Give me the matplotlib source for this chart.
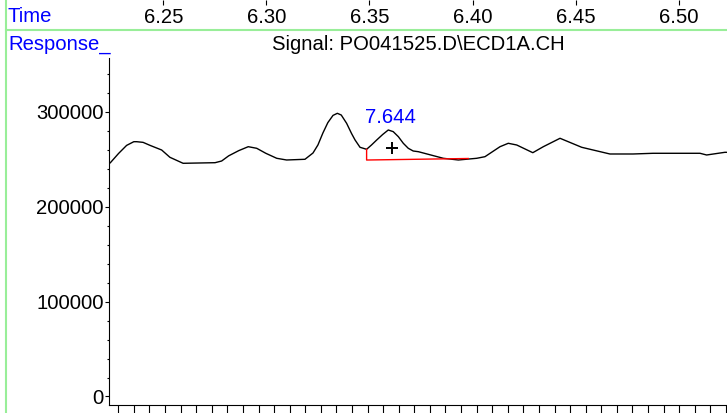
import numpy as np
import matplotlib
matplotlib.use("Agg")
import matplotlib.pyplot as plt
from matplotlib.lines import Line2D
from matplotlib.ticker import MultipleLocator, FixedLocator, NullFormatter

plt.rcParams['font.family'] = ['Liberation Sans', 'DejaVu Sans']

# signal trace (time in min, response in counts)
time = [6.2238, 6.2242, 6.2283, 6.2322, 6.2357, 6.2371, 6.2402, 6.2436, 6.2492,
        6.2532, 6.2596, 6.2751, 6.2783, 6.2817, 6.2866, 6.2912, 6.2953, 6.2997,
        6.3050, 6.3098, 6.3187, 6.3226, 6.3250, 6.3274, 6.3298, 6.3323, 6.3344,
        6.3363, 6.3389, 6.3413, 6.3430, 6.3454, 6.3486, 6.3510, 6.3535, 6.3564,
        6.3591, 6.3615, 6.3640, 6.3664, 6.3688, 6.3712, 6.3737, 6.3858, 6.3931,
        6.4020, 6.4060, 6.4133, 6.4173, 6.4214, 6.4292, 6.4343, 6.4424, 6.4529,
        6.4666, 6.4778, 6.4875, 6.5103, 6.5135, 6.5224, 6.5234]
response = [246500, 245960, 256000, 264500, 268400, 268400, 267700, 264500, 259660,
            251970, 245650, 246280, 248070, 253500, 259000, 263140, 261450, 256200,
            250920, 249130, 249870, 256500, 265000, 277570, 288500, 296100, 298300,
            296500, 287790, 277000, 270200, 262500, 260400, 265000, 270200, 276000,
            280730, 279000, 273670, 266700, 261450, 258600, 257870, 250920, 249130,
            250920, 252610, 263140, 266720, 264930, 256820, 263140, 271990, 262510,
            255450, 255450, 256190, 256190, 254400, 257240, 257200]

# integration baseline of the labelled peak
base_time = [6.3486, 6.3486, 6.3979]
base_resp = [260400, 249100, 250700]

peak_label = "7.644"
peak_label_pos = (6.3600, 294400)
peak_mark = (6.3609, 261780)

top_ticks = [6.25, 6.30, 6.35, 6.40, 6.45, 6.50]
top_labels = ["6.25", "6.30", "6.35", "6.40", "6.45", "6.50"]
bottom_ticks = 6.22818 + 0.007556 * np.arange(40)

xlim = (6.22381, 6.52338)
ylim = (-8430, 356250)

W, H = 727, 413
fig = plt.figure(figsize=(W / 100, H / 100), dpi=100)
fs = 14.6

L = 109.3 / W
ax = fig.add_axes([L, 8.5 / H, 1 - L, (404.5 - 58.3) / H])
ax.plot(time, response, color='black', lw=1.0)
ax.plot(base_time, base_resp, color='red', lw=1.0)
ax.plot(*peak_mark, marker='+', color='black', ms=8, mew=1.4)
ax.text(*peak_label_pos, peak_label, color='blue', fontsize=fs, ha='center', va='center')
ax.set_xlim(*xlim)
ax.set_ylim(*ylim)
for s in ['top', 'right']:
    ax.spines[s].set_visible(False)
ax.yaxis.set_major_locator(MultipleLocator(100000))
ax.yaxis.set_minor_locator(MultipleLocator(20000))
ax.tick_params(axis='y', which='major', length=3, width=0.8, pad=1, labelsize=fs)
ax.tick_params(axis='y', which='minor', length=1.5, width=0.8)
ax.xaxis.set_major_locator(FixedLocator(bottom_ticks))
ax.xaxis.set_major_formatter(NullFormatter())
ax.tick_params(axis='x', which='major', length=8, width=0.8)

# time scale drawn above the figure edge, ticks hang down into it
axt = fig.add_axes([L, 1.0, 1 - L, 0.01])
axt.set_xlim(*xlim)
axt.patch.set_visible(False)
for s in axt.spines.values():
    s.set_visible(False)
axt.set_yticks([])
axt.set_xticks(top_ticks)
axt.set_xticklabels(top_labels)
axt.tick_params(axis='x', length=3.6, width=0.8, pad=2, labelsize=fs)

green = '#99ee99'
fig.add_artist(Line2D([6 / W, 6 / W], [0, 1], color=green, lw=1.5))
fig.add_artist(Line2D([6 / W, 1], [1 - 30 / H, 1 - 30 / H], color=green, lw=1.5))

fig.text(8 / W, 1 - 16 / H, "Time", color='blue', fontsize=fs, ha='left', va='center')
fig.text(8 / W, 1 - 44 / H, "Response_", color='blue', fontsize=fs, ha='left', va='center')
fig.text(418 / W, 1 - 45 / H, r"Signal: PO041525.D\ECD1A.CH", color='black',
         fontsize=fs, ha='center', va='center')

fig.savefig("out.png", dpi=100)
